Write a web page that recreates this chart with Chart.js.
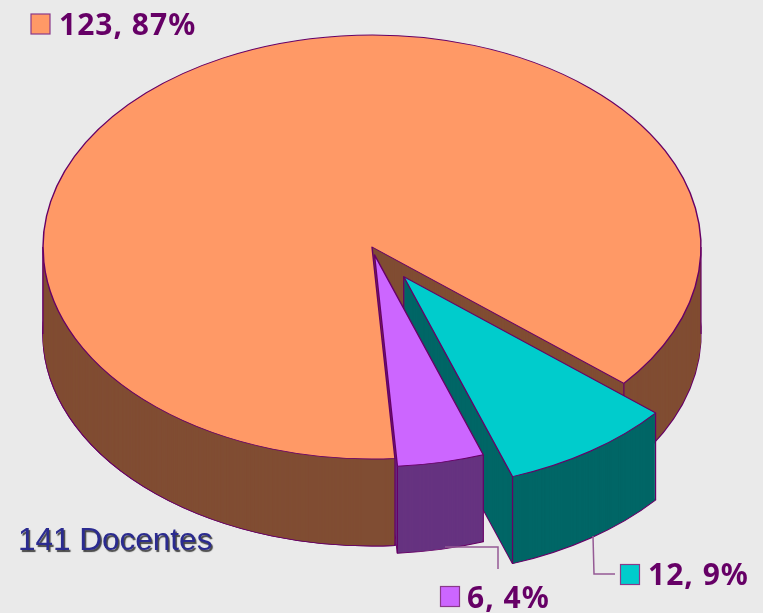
<!DOCTYPE html>
<html>
<head>
<meta charset="utf-8">
<title>141 Docentes</title>
<style>
  html, body { margin: 0; padding: 0; background: #eaeaea; }
  #wrap { width: 763px; height: 613px; position: relative; overflow: hidden; }
</style>
<script src="https://cdn.jsdelivr.net/npm/chart.js@4/dist/chart.umd.min.js"></script>
</head>
<body>
<div id="wrap"><canvas id="pie" width="763" height="613"></canvas></div>
<script>
// data
var sliceValues = [123, 12, 6];
var sliceLabels = ['123, 87%', '12, 9%', '6, 4%'];
var totalLabel = '141 Docentes';

var topColors = ['#ff9966', '#00cccc', '#cc66ff'];
var sideColors = ['#804d33', '#006666', '#663380'];
var sliceOffsets = [0, 155, 34];
var lineColor = '#660066';
var leaderColor = '#955a95';

// the flat pie is squashed onto this ellipse, then extruded down by pieDepth
var pieCx = 372, pieCy = 247, pieRx = 329, pieRy = 212, pieDepth = 87;
var baseRadius = 1;
var sliceAngles = [];

function applyEllipse(ctx, el, dy) {
    ctx.translate(pieCx, pieCy + dy);
    ctx.scale(pieRx / baseRadius, pieRy / baseRadius);
    ctx.translate(-el.x, -el.y);
}

// screen position of a point on the slice, angle in canvas radians
function slicePoint(el, angle, radius) {
    var mid = (el.startAngle + el.endAngle) / 2;
    var off = (el.options.offset || 0) / 4;
    var x = Math.cos(mid) * off + Math.cos(angle) * radius;
    var y = Math.sin(mid) * off + Math.sin(angle) * radius;
    return { x: pieCx + x * pieRx / baseRadius, y: pieCy + y * pieRy / baseRadius };
}

function drawEdge(ctx, p) {
    ctx.beginPath();
    ctx.moveTo(p.x, p.y);
    ctx.lineTo(p.x, p.y + pieDepth);
    ctx.stroke();
}

// side walls: the slice repeated downwards in the dark colour, then its vertical edges
function drawWalls(ctx, el, i) {
    var opts = el.options;
    for (var d = pieDepth; d > 0; d--) {
        el.options = Object.assign({}, opts, {
            backgroundColor: sideColors[i],
            borderColor: d === pieDepth ? lineColor : sideColors[i],
            borderWidth: d === pieDepth ? 1 : 0
        });
        ctx.save();
        applyEllipse(ctx, el, d);
        el.draw(ctx);
        ctx.restore();
    }
    el.options = opts;

    ctx.save();
    ctx.strokeStyle = lineColor;
    ctx.lineWidth = 1.2;
    drawEdge(ctx, slicePoint(el, sliceAngles[i].start, baseRadius));
    drawEdge(ctx, slicePoint(el, sliceAngles[i].end, baseRadius));
    if (i === 0) {
        drawEdge(ctx, slicePoint(el, Math.PI, baseRadius));
        drawEdge(ctx, slicePoint(el, Math.PI * 2, baseRadius));
    } else {
        drawEdge(ctx, slicePoint(el, sliceAngles[i].start, 0));
    }
    ctx.restore();
}

var pie3d = {
    id: 'pie3d',
    afterDatasetUpdate: function (chart) {
        // the arc element resizes an offset slice when it draws, take that back
        var arcs = chart.getDatasetMeta(0).data;
        baseRadius = arcs[0].outerRadius;
        arcs.forEach(function (el, i) {
            var off = (el.options.offset || 0) / 4;
            var grow = off * (1 - Math.sin(Math.min(Math.PI, el.circumference)));
            var widen = grow / (2 * Math.PI * baseRadius);
            sliceAngles[i] = { start: el.startAngle, end: el.endAngle };
            el.outerRadius = baseRadius - grow;
            el.startAngle -= widen;
            el.endAngle += widen;
        });
    },
    beforeDatasetsDraw: function (chart) {
        var ctx = chart.ctx;
        var arcs = chart.getDatasetMeta(0).data;
        arcs.forEach(function (el, i) {
            drawWalls(ctx, el, i);
        });

        // the big slice's wall stays in front of the small purple one
        ctx.save();
        ctx.beginPath();
        ctx.rect(0, 0, slicePoint(arcs[0], sliceAngles[0].start, baseRadius).x + 1, chart.height);
        ctx.clip();
        drawWalls(ctx, arcs[0], 0);
        ctx.restore();

        // top faces are drawn by the chart inside this transform
        ctx.save();
        applyEllipse(ctx, arcs[0], 0);
    },
    afterDatasetsDraw: function (chart) {
        var ctx = chart.ctx;
        ctx.restore();

        // leader lines
        ctx.save();
        ctx.strokeStyle = leaderColor;
        ctx.lineWidth = 1.5;
        ctx.beginPath();
        ctx.moveTo(445, 547); ctx.lineTo(498, 547); ctx.lineTo(498, 569);
        ctx.moveTo(593, 536); ctx.lineTo(594, 574); ctx.lineTo(615, 574);
        ctx.stroke();
        ctx.restore();

        // labels with their colour keys
        var keys = [[31, 14, 59, 35], [620.5, 564.5, 648, 585], [440.5, 586.5, 467, 608]];
        sliceLabels.forEach(function (text, i) {
            var k = keys[i];
            ctx.fillStyle = topColors[i];
            ctx.strokeStyle = '#8a3a8a';
            ctx.lineWidth = 1.2;
            ctx.fillRect(k[0], k[1], 19, 20);
            ctx.strokeRect(k[0], k[1], 19, 20);
            ctx.fillStyle = lineColor;
            ctx.font = 'bold 30px "Noto Sans"';
            ctx.letterSpacing = '1px';
            ctx.textBaseline = 'alphabetic';
            ctx.textAlign = 'left';
            ctx.fillText(text, k[2], k[3]);
            ctx.letterSpacing = '0px';
        });

        // total, with its soft shadow
        ctx.save();
        ctx.font = '31.5px "Liberation Sans"';
        ctx.shadowColor = 'rgba(0,0,0,0.7)';
        ctx.shadowOffsetX = 1.5;
        ctx.shadowOffsetY = 1.5;
        ctx.shadowBlur = 1;
        ctx.fillStyle = '#2b2b90';
        ctx.fillText(totalLabel, 18, 550);
        ctx.restore();
    }
};

new Chart(document.getElementById('pie'), {
    type: 'pie',
    data: {
        labels: sliceLabels,
        datasets: [{
            data: sliceValues,
            backgroundColor: topColors,
            borderColor: lineColor,
            borderWidth: 1,
            borderJoinStyle: 'round',
            offset: sliceOffsets,
            clip: false
        }]
    },
    options: {
        responsive: false,
        animation: false,
        rotation: 176,
        layout: { padding: 0 },
        plugins: { legend: { display: false }, tooltip: { enabled: false } }
    },
    plugins: [pie3d]
});
</script>
</body>
</html>
